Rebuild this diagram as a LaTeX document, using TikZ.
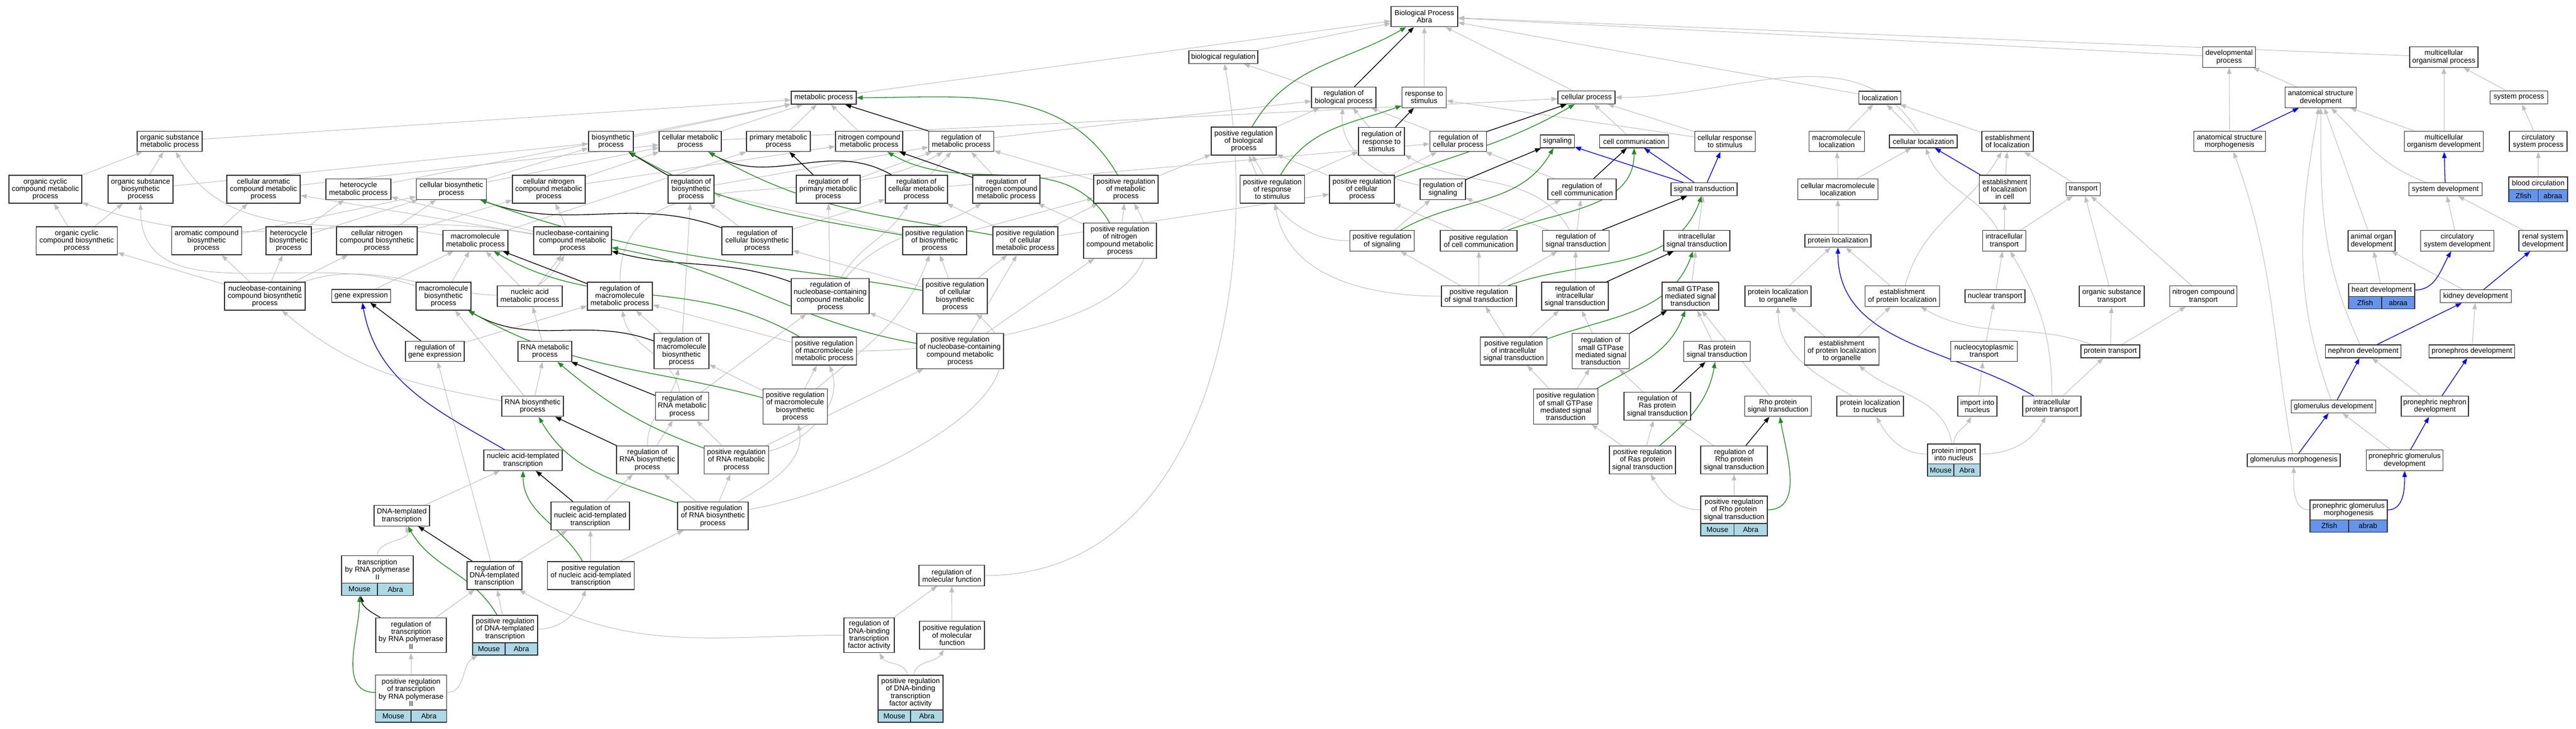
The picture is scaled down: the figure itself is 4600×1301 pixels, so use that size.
\documentclass[tikz,border=0pt]{standalone}
\usepackage{fontspec}
\setmainfont{Liberation Sans}
\usetikzlibrary{arrows.meta}
\pgfdeclarelayer{edgelayer}
\pgfdeclarelayer{nodelayer}
\pgfsetlayers{edgelayer,nodelayer,main}
\definecolor{edgegrey}{HTML}{BEBEBE}
\definecolor{posgreen}{HTML}{228B22}
\definecolor{barblue}{HTML}{ADD8E6}
\definecolor{barcorn}{HTML}{6495ED}
\tikzset{font=\fontsize{13}{13.3}\selectfont}
\tikzstyle{term}=[rectangle,draw=black!80,line width=1.2pt,fill=white,align=center,inner xsep=3pt,inner ysep=1pt]
\tikzstyle{h1}=[minimum height=23]
\tikzstyle{h2}=[minimum height=36.5]
\tikzstyle{h3}=[minimum height=50]
\tikzstyle{h4}=[minimum height=62.5]
\tikzstyle{mouse}=[rectangle,draw=black!80,line width=1.2pt,fill=barblue,minimum height=22,inner sep=0pt]
\tikzstyle{zfish}=[rectangle,draw=black!80,line width=1.2pt,fill=barcorn,minimum height=22,inner sep=0pt]
\tikzstyle{isa}=[draw=edgegrey,line width=1pt,-{Triangle[length=11pt,width=8pt]}]
\tikzstyle{reg}=[draw=black,line width=1.3pt,-{Triangle[length=11pt,width=8pt]}]
\tikzstyle{posreg}=[draw=posgreen,line width=1.3pt,-{Triangle[length=11pt,width=8pt]}]
\tikzstyle{partof}=[draw=blue,line width=1.3pt,-{Triangle[length=11pt,width=8pt]}]

\begin{document}
\begin{tikzpicture}[x=1pt,y=1pt]
	\useasboundingbox (0,0) rectangle (4600,-1301);
	\begin{pgfonlayer}{nodelayer}
		\node [style=term, h2, minimum width=119] (0) at (2543.5, -29.6) {Biological Process\\Abra};
		\node [style=term, h1, minimum width=123] (1) at (2184.5, -102) {biological regulation};
		\node [style=term, h2, minimum width=94] (2) at (3980.5, -102) {developmental\\process};
		\node [style=term, h2, minimum width=122] (3) at (4364, -102) {multicellular\\organismal process};
		\node [style=term, h1, minimum width=116] (4) at (1471, -174.5) {metabolic process};
		\node [style=term, h2, minimum width=115] (5) at (2399.5, -174) {regulation of\\biological process};
		\node [style=term, h2, minimum width=79] (6) at (2543, -174) {response to\\stimulus};
		\node [style=term, h1, minimum width=102] (7) at (2833, -174) {cellular process};
		\node [style=term, h1, minimum width=75] (8) at (3357, -174.5) {localization};
		\node [style=term, h2, minimum width=127] (9) at (4144, -174) {anatomical structure\\development};
		\node [style=term, h1, minimum width=103] (10) at (4498, -174) {system process};
		\node [style=term, h2, minimum width=116] (11) at (303, -252.5) {organic substance\\metabolic process};
		\node [style=term, h2, minimum width=80] (12) at (1091, -252.5) {biosynthetic\\process};
		\node [style=term, h2, minimum width=111] (13) at (1232.5, -252.5) {cellular metabolic\\process};
		\node [style=term, h2, minimum width=114] (14) at (1390, -252.5) {primary metabolic\\process};
		\node [style=term, h2, minimum width=120] (15) at (1552, -252.5) {nitrogen compound\\metabolic process};
		\node [style=term, h2, minimum width=116] (16) at (1716.5, -252.5) {regulation of\\metabolic process};
		\node [style=term, h3, minimum width=116] (17) at (2221, -252) {positive regulation\\of biological\\process};
		\node [style=term, h3, minimum width=82] (18) at (2467, -252.5) {regulation of\\response to\\stimulus};
		\node [style=term, h2, minimum width=101] (19) at (2604, -252.5) {regulation of\\cellular process};
		\node [style=term, h1, minimum width=61] (20) at (2781, -252.5) {signaling};
		\node [style=term, h1, minimum width=123] (21) at (2918, -252.5) {cell communication};
		\node [style=term, h2, minimum width=108] (22) at (3080.5, -252.5) {cellular response\\to stimulus};
		\node [style=term, h2, minimum width=99] (23) at (3280, -252.5) {macromolecule\\localization};
		\node [style=term, h1, minimum width=121] (24) at (3434.5, -252.5) {cellular localization};
		\node [style=term, h2, minimum width=92] (25) at (3585, -252.5) {establishment\\of localization};
		\node [style=term, h2, minimum width=128] (26) at (3981.5, -252.5) {anatomical structure\\morphogenesis};
		\node [style=term, h2, minimum width=141] (27) at (4364, -252.5) {multicellular\\organism development};
		\node [style=term, h2, minimum width=103] (28) at (4532.5, -252.5) {circulatory\\system process};
		\node [style=term, h3, minimum width=130] (29) at (81, -338) {organic cyclic\\compound metabolic\\process};
		\node [style=term, h3, minimum width=116] (30) at (251, -338) {organic substance\\biosynthetic\\process};
		\node [style=term, h3, minimum width=131] (31) at (470.5, -338) {cellular aromatic\\compound metabolic\\process};
		\node [style=term, h2, minimum width=116] (32) at (640, -338) {heterocycle\\metabolic process};
		\node [style=term, h2, minimum width=125] (33) at (806, -338) {cellular biosynthetic\\process};
		\node [style=term, h3, minimum width=130] (34) at (980, -338) {cellular nitrogen\\compound metabolic\\process};
		\node [style=term, h3, minimum width=82] (35) at (1234, -338) {regulation of\\biosynthetic\\process};
		\node [style=term, h3, minimum width=114] (36) at (1479, -338) {regulation of\\primary metabolic\\process};
		\node [style=term, h3, minimum width=111] (37) at (1636.5, -338) {regulation of\\cellular metabolic\\process};
		\node [style=term, h3, minimum width=120] (38) at (1797, -338) {regulation of\\nitrogen compound\\metabolic process};
		\node [style=term, h3, minimum width=115] (39) at (2010.5, -338) {positive regulation\\of metabolic\\process};
		\node [style=term, h3, minimum width=115] (40) at (2272, -338) {positive regulation\\of response\\to stimulus};
		\node [style=term, h3, minimum width=116] (41) at (2432, -338) {positive regulation\\of cellular\\process};
		\node [style=term, h2, minimum width=81] (42) at (2576.5, -338) {regulation of\\signaling};
		\node [style=term, h2, minimum width=122] (43) at (2825, -338) {regulation of\\cell communication};
		\node [style=term, h1, minimum width=118] (44) at (3043, -338) {signal transduction};
		\node [style=term, h2, minimum width=143] (45) at (3282, -338) {cellular macromolecule\\localization};
		\node [style=term, h3, minimum width=91] (46) at (3580, -338) {establishment\\of localization\\in cell};
		\node [style=term, h1, minimum width=61] (47) at (3720, -338) {transport};
		\node [style=term, h1, minimum width=131] (48) at (4366.6, -338) {system development};
		\node [style=term, minimum height=22.7, minimum width=105] (49) at (4532.5, -327.3) {blood circulation};
		\node [style=term, h3, minimum width=145] (50) at (137, -430) {organic cyclic\\compound biosynthetic\\process};
		\node [style=term, h3, minimum width=125] (51) at (369, -430) {aromatic compound\\biosynthetic\\process};
		\node [style=term, h3, minimum width=81] (52) at (515.5, -430) {heterocycle\\biosynthetic\\process};
		\node [style=term, h3, minimum width=144] (53) at (673, -430) {cellular nitrogen\\compound biosynthetic\\process};
		\node [style=term, h2, minimum width=116] (54) at (849, -430) {macromolecule\\metabolic process};
		\node [style=term, h3, minimum width=139] (55) at (1022.5, -430) {nucleobase-containing\\compound metabolic\\process};
		\node [style=term, h3, minimum width=126] (56) at (1352, -430) {regulation of\\cellular biosynthetic\\process};
		\node [style=term, h3, minimum width=114] (57) at (1669, -430) {positive regulation\\of biosynthetic\\process};
		\node [style=term, h3, minimum width=116] (58) at (1831, -430) {positive regulation\\of cellular\\metabolic process};
		\node [style=term, h4, minimum width=130] (59) at (2000, -430) {positive regulation\\of nitrogen\\compound metabolic\\process};
		\node [style=term, h2, minimum width=115] (60) at (2468, -430) {positive regulation\\of signaling};
		\node [style=term, h2, minimum width=137] (61) at (2640.5, -430) {positive regulation\\of cell communication};
		\node [style=term, h2, minimum width=119] (62) at (2814, -430) {regulation of\\signal transduction};
		\node [style=term, h2, minimum width=118] (63) at (3030, -430) {intracellular\\signal transduction};
		\node [style=term, h1, minimum width=118] (64) at (3282, -430) {protein localization};
		\node [style=term, h2, minimum width=77] (65) at (3579, -430) {intracellular\\transport};
		\node [style=term, h2, minimum width=84] (66) at (4235, -430) {animal organ\\development};
		\node [style=term, h2, minimum width=131] (67) at (4388, -430) {circulatory\\system development};
		\node [style=term, h2, minimum width=86] (68) at (4541, -430) {renal system\\development};
		\node [style=term, h3, minimum width=144] (69) at (473, -529) {nucleobase-containing\\compound biosynthetic\\process};
		\node [style=term, h1, minimum width=105] (70) at (645, -528.5) {gene expression};
		\node [style=term, h3, minimum width=98] (71) at (792, -529) {macromolecule\\biosynthetic\\process};
		\node [style=term, h2, minimum width=116] (72) at (946, -529) {nucleic acid\\metabolic process};
		\node [style=term, h3, minimum width=116] (73) at (1107, -529) {regulation of\\macromolecule\\metabolic process};
		\node [style=term, h4, minimum width=139] (74) at (1482.5, -529) {regulation of\\nucleobase-containing\\compound metabolic\\process};
		\node [style=term, h4, minimum width=115] (75) at (1705.5, -529) {positive regulation\\of cellular\\biosynthetic\\process};
		\node [style=term, h2, minimum width=134] (76) at (2641, -529) {positive regulation\\of signal transduction};
		\node [style=term, h3, minimum width=119] (77) at (2812.5, -529) {regulation of\\intracellular\\signal transduction};
		\node [style=term, h3, minimum width=101] (78) at (3018.5, -529) {small GTPase\\mediated signal\\transduction};
		\node [style=term, h2, minimum width=118] (79) at (3175, -529) {protein localization\\to organelle};
		\node [style=term, h2, minimum width=133] (80) at (3397, -529) {establishment\\of protein localization};
		\node [style=term, h1, minimum width=107] (81) at (3562.5, -529) {nuclear transport};
		\node [style=term, h2, minimum width=116] (82) at (3771, -529) {organic substance\\transport};
		\node [style=term, h2, minimum width=120] (83) at (3934.6, -529) {nitrogen compound\\transport};
		\node [style=term, minimum height=22.8, minimum width=118] (84) at (4253, -518) {heart development};
		\node [style=term, h1, minimum width=127] (85) at (4420.6, -529) {kidney development};
		\node [style=term, h2, minimum width=105] (86) at (776.5, -627.5) {regulation of\\gene expression};
		\node [style=term, h2, minimum width=96] (87) at (973, -627.5) {RNA metabolic\\process};
		\node [style=term, h4, minimum width=98] (88) at (1217, -627) {regulation of\\macromolecule\\biosynthetic\\process};
		\node [style=term, h3, minimum width=115] (89) at (1472, -627) {positive regulation\\of macromolecule\\metabolic process};
		\node [style=term, h4, minimum width=155] (90) at (1714.5, -627) {positive regulation\\of nucleobase-containing\\compound metabolic\\process};
		\node [style=term, h3, minimum width=119] (91) at (2703, -627) {positive regulation\\of intracellular\\signal transduction};
		\node [style=term, h4, minimum width=102] (92) at (2858.6, -627) {regulation of\\small GTPase\\mediated signal\\transduction};
		\node [style=term, h2, minimum width=119] (93) at (3066, -627.5) {Ras protein\\signal transduction};
		\node [style=term, h3, minimum width=133] (94) at (3289, -627) {establishment\\of protein localization\\to organelle};
		\node [style=term, h2, minimum width=119] (95) at (3543, -627.5) {nucleocytoplasmic\\transport};
		\node [style=term, h1, minimum width=105] (96) at (3768.5, -627.5) {protein transport};
		\node [style=term, h1, minimum width=135] (97) at (4220, -627.5) {nephron development};
		\node [style=term, h1, minimum width=153] (98) at (4414, -627.5) {pronephros development};
		\node [style=term, h2, minimum width=110] (99) at (951, -725.6) {RNA biosynthetic\\process};
		\node [style=term, h3, minimum width=95] (100) at (1218, -725.6) {regulation of\\RNA metabolic\\process};
		\node [style=term, h4, minimum width=115] (101) at (1420, -726) {positive regulation\\of macromolecule\\biosynthetic\\process};
		\node [style=term, h4, minimum width=115] (102) at (2796, -726) {positive regulation\\of small GTPase\\mediated signal\\transduction};
		\node [style=term, h3, minimum width=119] (103) at (2959.5, -725.6) {regulation of\\Ras protein\\signal transduction};
		\node [style=term, h2, minimum width=119] (104) at (3175, -725.6) {Rho protein\\signal transduction};
		\node [style=term, h2, minimum width=119] (105) at (3339.5, -725.6) {protein localization\\to nucleus};
		\node [style=term, h2, minimum width=70] (106) at (3531, -725.6) {import into\\nucleus};
		\node [style=term, h2, minimum width=104] (107) at (3664, -725.6) {intracellular\\protein transport};
		\node [style=term, h1, minimum width=151] (108) at (4167, -726) {glomerulus development};
		\node [style=term, h2, minimum width=120] (109) at (4348, -725.6) {pronephric nephron\\development};
		\node [style=term, h2, minimum width=140] (110) at (934, -822) {nucleic acid-templated\\transcription};
		\node [style=term, h3, minimum width=110] (111) at (1156, -821.5) {regulation of\\RNA biosynthetic\\process};
		\node [style=term, h3, minimum width=115] (112) at (1315, -821.5) {positive regulation\\of RNA metabolic\\process};
		\node [style=term, h3, minimum width=118] (113) at (2933, -821.5) {positive regulation\\of Ras protein\\signal transduction};
		\node [style=term, h3, minimum width=119] (114) at (3096.5, -821.5) {regulation of\\Rho protein\\signal transduction};
		\node [style=term, minimum height=36, minimum width=94] (115) at (3489, -811) {protein import\\into nucleus};
		\node [style=term, h1, minimum width=166] (116) at (4096, -821.6) {glomerulus morphogenesis};
		\node [style=term, h2, minimum width=137] (117) at (4294, -822) {pronephric glomerulus\\development};
		\node [style=term, minimum height=49, minimum width=119] (118) at (3096.5, -910.5) {positive regulation\\of Rho protein\\signal transduction};
		\node [style=term, minimum height=35.6, minimum width=138] (119) at (4194, -910.8) {pronephric glomerulus\\morphogenesis};
		\node [style=term, h2, minimum width=99] (120) at (717.5, -921) {DNA-templated\\transcription};
		\node [style=term, h3, minimum width=140] (121) at (1054, -921.5) {regulation of\\nucleic acid-templated\\transcription};
		\node [style=term, h3, minimum width=126] (122) at (1273, -921.5) {positive regulation\\of RNA biosynthetic\\process};
		\node [style=term, minimum height=49.5, minimum width=128] (123) at (674, -1017.25) {transcription\\by RNA polymerase\\II};
		\node [style=term, h3, minimum width=98] (124) at (883, -1028) {regulation of\\DNA-templated\\transcription};
		\node [style=term, h3, minimum width=155] (125) at (1055, -1028) {positive regulation\\of nucleic acid-templated\\transcription};
		\node [style=term, h2, minimum width=117] (126) at (1699.5, -1028) {regulation of\\molecular function};
		\node [style=term, h4, minimum width=126] (127) at (734, -1134.5) {regulation of\\transcription\\by RNA polymerase\\II};
		\node [style=term, minimum height=49, minimum width=116] (128) at (902, -1123.5) {positive regulation\\of DNA-templated\\transcription};
		\node [style=term, h4, minimum width=90] (129) at (1552, -1134.5) {regulation of\\DNA-binding\\transcription\\factor activity};
		\node [style=term, h3, minimum width=116] (130) at (1700, -1134.5) {positive regulation\\of molecular\\function};
		\node [style=term, minimum height=62.5, minimum width=127] (131) at (734, -1236.75) {positive regulation\\of transcription\\by RNA polymerase\\II};
		\node [style=term, minimum height=62, minimum width=116] (132) at (1626, -1237) {positive regulation\\of DNA-binding\\transcription\\factor activity};
		\node [style=zfish, minimum width=52.5] (133) at (4506.25, -349.35) {Zfish};
		\node [style=zfish, minimum width=52.5] (134) at (4558.75, -349.35) {abraa};
		\node [style=zfish, minimum width=59] (135) at (4223.5, -540.4) {Zfish};
		\node [style=zfish, minimum width=59] (136) at (4282.5, -540.4) {abraa};
		\node [style=mouse, minimum width=47] (137) at (3465.5, -839.8) {Mouse};
		\node [style=mouse, minimum width=47] (138) at (3512.5, -839.8) {Abra};
		\node [style=mouse, minimum width=59.5] (139) at (3066.75, -946) {Mouse};
		\node [style=mouse, minimum width=59.5] (140) at (3126.25, -946) {Abra};
		\node [style=zfish, minimum width=69] (141) at (4159.5, -939.3) {Zfish};
		\node [style=zfish, minimum width=69] (142) at (4228.5, -939.3) {abrab};
		\node [style=mouse, minimum width=64] (143) at (642, -1052.5) {Mouse};
		\node [style=mouse, minimum width=64] (144) at (706, -1052.5) {Abra};
		\node [style=mouse, minimum width=58] (145) at (873, -1159) {Mouse};
		\node [style=mouse, minimum width=58] (146) at (931, -1159) {Abra};
		\node [style=mouse, minimum width=63.5] (147) at (702.25, -1279) {Mouse};
		\node [style=mouse, minimum width=63.5] (148) at (765.75, -1279) {Abra};
		\node [style=mouse, minimum width=58] (149) at (1597, -1279) {Mouse};
		\node [style=mouse, minimum width=58] (150) at (1655, -1279) {Abra};
	\end{pgfonlayer}
	\begin{pgfonlayer}{edgelayer}
		\draw [style=isa] (4) to (0);
		\draw [style=isa] (1) to (0);
		\draw [style=isa] (6) to (0);
		\draw [style=isa] (7) to (0);
		\draw [style=isa] (8) to (0);
		\draw [style=isa] (2) to (0);
		\draw [style=isa] (3) to (0);
		\draw [style=isa] (5) to (1);
		\draw [style=isa] (12) to (4);
		\draw [style=isa] (13) to (4);
		\draw [style=isa] (14) to (4);
		\draw [style=isa] (15) to (4);
		\draw [style=isa] (11) to (4);
		\draw [style=isa] (32) to (4);
		\draw [style=isa] (13) to (7);
		\draw [style=isa] (16) to (5);
		\draw [style=isa] (39) to (16);
		\draw [style=isa] (39) to (17);
		\draw [style=isa] (29) to (11);
		\draw [style=isa] (30) to (11);
		\draw [style=isa] (30) to (12);
		\draw [style=isa] (31) to (13);
		\draw [style=isa] (33) to (12);
		\draw [style=isa] (33) to (13);
		\draw [style=isa] (50) to (29);
		\draw [style=isa] (50) to (30);
		\draw [style=isa] (51) to (31);
		\draw [style=isa] (51) to (33);
		\draw [style=isa] (52) to (32);
		\draw [style=isa] (52) to (33);
		\draw [style=isa] (53) to (34);
		\draw [style=isa] (53) to (33);
		\draw [style=isa] (69) to (50);
		\draw [style=isa] (69) to (51);
		\draw [style=isa] (69) to (52);
		\draw [style=isa] (69) to (53);
		\draw [style=isa, in=-120, out=20] (69) to (55);
		\draw [style=isa] (70) to (54);
		\draw [style=isa] (71) to (54);
		\draw [style=isa, in=-90, out=160] (71) to (30);
		\draw [style=isa] (86) to (73);
		\draw [style=isa, in=-60, out=170] (54) to (11);
		\draw [style=isa] (54) to (14);
		\draw [style=isa] (55) to (31);
		\draw [style=isa] (55) to (32);
		\draw [style=isa] (55) to (34);
		\draw [style=isa, in=-20, out=170] (55) to (29);
		\draw [style=isa] (72) to (54);
		\draw [style=isa] (72) to (55);
		\draw [style=isa] (87) to (72);
		\draw [style=isa] (99) to (87);
		\draw [style=isa] (99) to (71);
		\draw [style=isa, in=-40, out=170] (99) to (69);
		\draw [style=isa] (120) to (110);
		\draw [style=isa, in=-70, out=90] (123) to (120);
		\draw [style=isa] (127) to (124);
		\draw [style=isa] (131) to (127);
		\draw [style=isa, in=-150, out=0] (131) to (145);
		\draw [style=isa] (124) to (121);
		\draw [style=isa] (124) to (86);
		\draw [style=isa] (128) to (124);
		\draw [style=isa, in=-110, out=0] (128) to (125);
		\draw [style=isa] (121) to (111);
		\draw [style=isa] (125) to (121);
		\draw [style=isa] (125) to (122);
		\draw [style=isa] (111) to (100);
		\draw [style=isa, in=-100, out=90] (111) to (88);
		\draw [style=isa, in=-80, out=100] (100) to (73);
		\draw [style=isa] (100) to (74);
		\draw [style=isa] (112) to (100);
		\draw [style=isa, in=-70, out=15] (112) to (89);
		\draw [style=isa] (112) to (90);
		\draw [style=isa] (122) to (111);
		\draw [style=isa] (122) to (112);
		\draw [style=isa, in=-80, out=30] (122) to (101);
		\draw [style=isa, in=-40, out=10] (122) to (75);
		\draw [style=isa] (101) to (88);
		\draw [style=isa] (101) to (89);
		\draw [style=isa, in=-110, out=40] (101) to (57);
		\draw [style=isa] (88) to (73);
		\draw [style=isa] (88) to (35);
		\draw [style=isa] (89) to (73);
		\draw [style=isa, in=-60, out=0] (89) to (39);
		\draw [style=isa] (74) to (36);
		\draw [style=isa, in=-120, out=60] (74) to (37);
		\draw [style=isa, in=-150, out=50] (74) to (38);
		\draw [style=isa] (90) to (74);
		\draw [style=isa] (90) to (58);
		\draw [style=isa] (90) to (59);
		\draw [style=isa] (75) to (56);
		\draw [style=isa] (75) to (57);
		\draw [style=isa] (75) to (58);
		\draw [style=isa] (57) to (35);
		\draw [style=isa] (57) to (39);
		\draw [style=isa] (58) to (37);
		\draw [style=isa] (58) to (39);
		\draw [style=isa] (58) to (41);
		\draw [style=isa] (59) to (38);
		\draw [style=isa] (59) to (39);
		\draw [style=isa] (56) to (35);
		\draw [style=isa] (56) to (37);
		\draw [style=isa] (35) to (16);
		\draw [style=isa] (36) to (16);
		\draw [style=isa] (37) to (16);
		\draw [style=isa] (37) to (19);
		\draw [style=isa] (38) to (16);
		\draw [style=isa] (34) to (13);
		\draw [style=isa] (34) to (15);
		\draw [style=isa, in=-150, out=90] (73) to (16);
		\draw [style=isa] (17) to (5);
		\draw [style=isa] (18) to (5);
		\draw [style=isa] (40) to (18);
		\draw [style=isa] (40) to (17);
		\draw [style=isa] (19) to (5);
		\draw [style=isa] (41) to (19);
		\draw [style=isa] (41) to (17);
		\draw [style=isa] (21) to (7);
		\draw [style=isa] (22) to (6);
		\draw [style=isa] (22) to (7);
		\draw [style=isa, in=-95, out=170] (42) to (5);
		\draw [style=isa] (43) to (19);
		\draw [style=isa] (60) to (42);
		\draw [style=isa, in=-70, out=180] (60) to (17);
		\draw [style=isa] (61) to (43);
		\draw [style=isa] (61) to (41);
		\draw [style=isa] (62) to (42);
		\draw [style=isa] (62) to (43);
		\draw [style=isa, in=-30, out=120] (62) to (18);
		\draw [style=isa] (76) to (62);
		\draw [style=isa] (76) to (60);
		\draw [style=isa] (76) to (61);
		\draw [style=isa, in=-80, out=180] (76) to (40);
		\draw [style=isa] (63) to (44);
		\draw [style=isa] (77) to (62);
		\draw [style=isa] (91) to (77);
		\draw [style=isa] (91) to (76);
		\draw [style=isa] (78) to (63);
		\draw [style=isa] (92) to (77);
		\draw [style=isa] (102) to (91);
		\draw [style=isa] (102) to (92);
		\draw [style=isa] (93) to (78);
		\draw [style=isa] (103) to (92);
		\draw [style=isa] (113) to (103);
		\draw [style=isa] (113) to (102);
		\draw [style=isa] (104) to (78);
		\draw [style=isa] (114) to (103);
		\draw [style=isa] (118) to (114);
		\draw [style=isa, in=-60, out=180] (118) to (113);
		\draw [style=isa] (64) to (45);
		\draw [style=isa] (45) to (23);
		\draw [style=isa] (45) to (24);
		\draw [style=isa] (23) to (8);
		\draw [style=isa] (24) to (8);
		\draw [style=isa, in=0, out=120] (24) to (7);
		\draw [style=isa] (25) to (8);
		\draw [style=isa] (46) to (25);
		\draw [style=isa] (47) to (25);
		\draw [style=isa] (65) to (46);
		\draw [style=isa] (65) to (47);
		\draw [style=isa, in=-70, out=120] (65) to (24);
		\draw [style=isa] (79) to (64);
		\draw [style=isa] (80) to (64);
		\draw [style=isa, in=-120, out=75] (80) to (25);
		\draw [style=isa] (81) to (65);
		\draw [style=isa] (82) to (47);
		\draw [style=isa] (83) to (47);
		\draw [style=isa] (94) to (79);
		\draw [style=isa] (94) to (80);
		\draw [style=isa] (95) to (81);
		\draw [style=isa, in=-30, out=160] (96) to (80);
		\draw [style=isa] (96) to (82);
		\draw [style=isa] (96) to (83);
		\draw [style=isa, in=-90, out=150] (105) to (79);
		\draw [style=isa] (106) to (95);
		\draw [style=isa, in=-60, out=90] (107) to (65);
		\draw [style=isa] (107) to (96);
		\draw [style=isa, in=-60, out=180] (115) to (105);
		\draw [style=isa, in=-120, out=90] (115) to (106);
		\draw [style=isa, in=-120, out=0] (115) to (107);
		\draw [style=isa, in=-40, out=100] (115) to (94);
		\draw [style=isa] (9) to (2);
		\draw [style=isa] (26) to (2);
		\draw [style=isa] (27) to (3);
		\draw [style=isa] (27) to (9);
		\draw [style=isa] (10) to (3);
		\draw [style=isa] (28) to (10);
		\draw [style=isa] (49) to (28);
		\draw [style=isa, in=-45, out=160] (48) to (9);
		\draw [style=isa] (66) to (9);
		\draw [style=isa] (67) to (48);
		\draw [style=isa] (68) to (48);
		\draw [style=isa] (84) to (66);
		\draw [style=isa] (85) to (66);
		\draw [style=isa, in=-90, out=115] (97) to (9);
		\draw [style=isa] (98) to (85);
		\draw [style=isa, in=-100, out=110] (108) to (9);
		\draw [style=isa] (109) to (97);
		\draw [style=isa, in=-70, out=100] (116) to (26);
		\draw [style=isa] (117) to (108);
		\draw [style=isa, in=-90, out=180] (119) to (116);
		\draw [style=isa, in=-80, out=0] (126) to (1);
		\draw [style=isa] (129) to (126);
		\draw [style=isa, in=-30, out=180] (129) to (124);
		\draw [style=isa] (130) to (126);
		\draw [style=isa, in=-60, out=100] (132) to (129);
		\draw [style=isa, in=-120, out=80] (132) to (130);
		\draw [style=reg] (5) to (0);
		\draw [style=reg] (16) to (4);
		\draw [style=reg] (86) to (70);
		\draw [style=reg, in=-80, out=150] (127) to (143);
		\draw [style=reg] (124) to (120);
		\draw [style=reg] (121) to (110);
		\draw [style=reg] (111) to (99);
		\draw [style=reg] (100) to (87);
		\draw [style=reg, in=-30, out=160] (88) to (71);
		\draw [style=reg, in=-15, out=160] (74) to (55);
		\draw [style=reg, in=-20, out=160] (56) to (33);
		\draw [style=reg] (35) to (12);
		\draw [style=reg] (36) to (14);
		\draw [style=reg, in=-30, out=150] (37) to (13);
		\draw [style=reg] (38) to (15);
		\draw [style=reg] (73) to (54);
		\draw [style=reg] (18) to (6);
		\draw [style=reg] (19) to (7);
		\draw [style=reg] (42) to (20);
		\draw [style=reg] (43) to (21);
		\draw [style=reg] (62) to (44);
		\draw [style=reg] (77) to (63);
		\draw [style=reg] (92) to (78);
		\draw [style=reg] (103) to (93);
		\draw [style=reg] (114) to (104);
		\draw [style=posreg, in=-150, out=60] (17) to (0);
		\draw [style=posreg, in=0, out=120] (39) to (4);
		\draw [style=posreg, in=-90, out=180] (131) to (143);
		\draw [style=posreg, in=-60, out=120] (128) to (120);
		\draw [style=posreg, in=-90, out=120] (125) to (110);
		\draw [style=posreg, in=-40, out=160] (112) to (87);
		\draw [style=posreg, in=-60, out=160] (122) to (99);
		\draw [style=posreg, in=-30, out=165] (101) to (71);
		\draw [style=posreg, in=-30, out=150] (89) to (54);
		\draw [style=posreg, in=-10, out=170] (90) to (55);
		\draw [style=posreg, in=-20, out=170] (75) to (33);
		\draw [style=posreg, in=-30, out=170] (57) to (12);
		\draw [style=posreg, in=-30, out=170] (58) to (13);
		\draw [style=posreg, in=-30, out=120] (59) to (15);
		\draw [style=posreg, in=-160, out=60] (40) to (6);
		\draw [style=posreg, in=-150, out=20] (41) to (7);
		\draw [style=posreg, in=-120, out=30] (60) to (20);
		\draw [style=posreg, in=-90, out=20] (61) to (21);
		\draw [style=posreg, in=-110, out=20] (76) to (44);
		\draw [style=posreg, in=-110, out=20] (91) to (63);
		\draw [style=posreg, in=-110, out=30] (102) to (78);
		\draw [style=posreg, in=-100, out=40] (113) to (93);
		\draw [style=posreg, in=-80, out=0] (118) to (104);
		\draw [style=partof, in=-80, out=150] (110) to (70);
		\draw [style=partof] (44) to (20);
		\draw [style=partof] (44) to (21);
		\draw [style=partof] (44) to (22);
		\draw [style=partof] (46) to (24);
		\draw [style=partof, in=-90, out=150] (107) to (64);
		\draw [style=partof] (26) to (9);
		\draw [style=partof] (48) to (27);
		\draw [style=partof, in=-120, out=0] (84) to (67);
		\draw [style=partof] (85) to (68);
		\draw [style=partof] (97) to (85);
		\draw [style=partof] (108) to (97);
		\draw [style=partof] (109) to (98);
		\draw [style=partof] (116) to (108);
		\draw [style=partof] (117) to (109);
		\draw [style=partof, in=-90, out=0] (119) to (117);
	\end{pgfonlayer}
\end{tikzpicture}
\end{document}
